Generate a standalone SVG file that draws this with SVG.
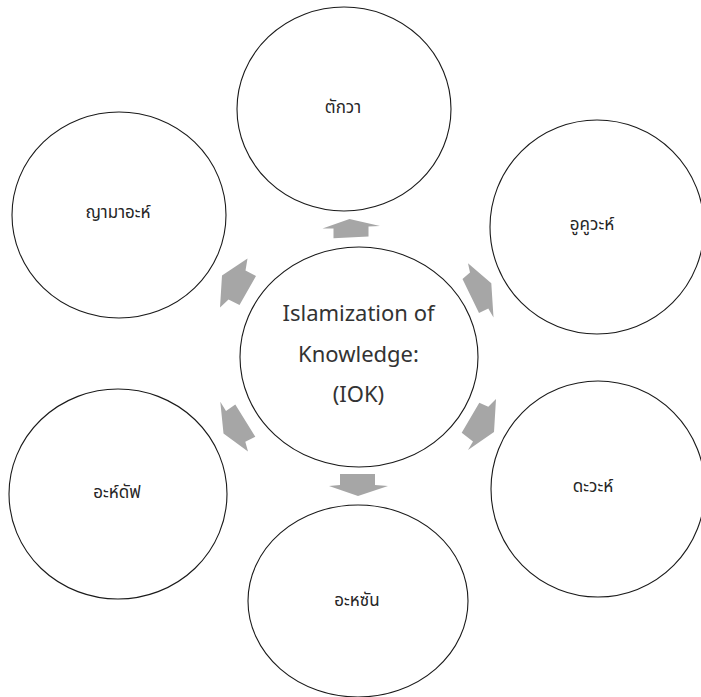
<svg xmlns="http://www.w3.org/2000/svg" width="701" height="697" viewBox="0 0 701 697">
<style>
.node{fill:#ffffff;stroke:#1a1a1a;stroke-width:1.1}
.arr{fill:#a6a6a6;stroke:none}
.th{font-family:"Noto Sans Thai","Noto Sans Thai UI","Leelawadee UI",Tahoma,"DejaVu Sans","Noto Sans",sans-serif;font-size:17px;fill:#262626;text-anchor:middle}
.en{font-family:"Noto Sans","Open Sans","Liberation Sans",sans-serif;font-size:22px;fill:#333333;text-anchor:middle}
</style>
<rect width="701" height="697" fill="#ffffff"/>
<g id="node-taqwa">
<ellipse class="node" cx="344" cy="109" rx="107" ry="102"/>
<text class="th" x="343" y="113">ตักวา</text>
</g>
<g id="node-jamaah">
<ellipse class="node" cx="119" cy="215" rx="107" ry="103"/>
<text class="th" x="118" y="218">ญามาอะห์</text>
</g>
<g id="node-ukhuwah">
<ellipse class="node" cx="597" cy="227" rx="107" ry="107"/>
<text class="th" x="592" y="230">อูคูวะห์</text>
</g>
<g id="node-dawah">
<ellipse class="node" cx="598" cy="489" rx="107" ry="108"/>
<text class="th" x="593" y="492">ดะวะห์</text>
</g>
<g id="node-ahsan">
<ellipse class="node" cx="358" cy="601" rx="110" ry="96"/>
<text class="th" x="357" y="606">อะหซัน</text>
</g>
<g id="node-ahdaf">
<ellipse class="node" cx="118" cy="494" rx="109" ry="105"/>
<text class="th" x="117" y="498">อะห์ดัฟ</text>
</g>
<g id="node-iok">
<ellipse class="node" cx="359" cy="357" rx="119" ry="110"/>
<text class="en" x="358.5" y="321">Islamization of</text>
<text class="en" x="358.5" y="362">Knowledge:</text>
<text class="en" x="358.5" y="402">(IOK)</text>
</g>
<g id="connectors">
<polygon class="arr" points="322.5,228.5 349.5,219 380,226 368.5,226.5 368.5,236.5 333.5,238.3 333.5,228.5"/>
<polygon class="arr" points="340,474 375,474 375,485 388,486 358,496 329,486 340,485"/>
<polygon class="arr" points="468,263.3 470,272.5 462.5,279 479,313 488.3,308.5 493.5,317.5 491.3,283.3"/>
<polygon class="arr" points="496,399 494,432 468,450 473,441.5 461.7,432.7 479.3,402.7 488.3,406.7"/>
<polygon class="arr" points="220.3,401.7 226,411 235.3,404.5 255.3,436.7 245.3,441.7 248,451.5 223.5,433.5"/>
<polygon class="arr" points="220,307.5 228.5,299.5 239.5,305 256,276 245.5,270.5 247.5,258.5 222,275.5"/>
</g>
</svg>
